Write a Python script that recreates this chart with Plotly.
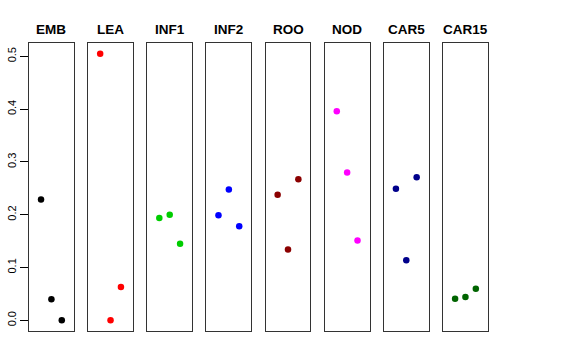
import plotly.graph_objects as go

W, H = 576, 360

categories = ["EMB", "LEA", "INF1", "INF2", "ROO", "NOD", "CAR5", "CAR15"]
colors = ["#000000", "#FF0000", "#00CD00", "#0000FF", "#8B0000", "#FF00FF", "#00008B", "#006400"]
x_positions = [1, 2, 3]
emb = [0.229, 0.040, 0.0]
lea = [0.505, 0.0, 0.063]
inf1 = [0.194, 0.200, 0.145]
inf2 = [0.199, 0.248, 0.178]
roo = [0.238, 0.134, 0.267]
nod = [0.396, 0.280, 0.151]
car5 = [0.249, 0.114, 0.271]
car15 = [0.041, 0.044, 0.060]
series = [emb, lea, inf1, inf2, roo, nod, car5, car15]
y_ticks = [0.0, 0.1, 0.2, 0.3, 0.4, 0.5]
y_tick_text = ["0.0", "0.1", "0.2", "0.3", "0.4", "0.5"]

# y range: R-style 4% expansion of data range
all_vals = [v for s in series for v in s]
ymin, ymax = min(all_vals), max(all_vals)
pad = 0.04 * (ymax - ymin)
y_range = [ymin - pad, ymax + pad]
x_range = [-0.16, 4.16]

fig = go.Figure()

left0, step, width = 29.0, 59.15, 44.8
top_px, bottom_px = 43.0, 331.0
ydom = [1 - bottom_px / H, 1 - top_px / H]

layout = dict(
    width=W, height=H,
    margin=dict(l=0, r=0, t=0, b=0, autoexpand=False),
    paper_bgcolor="white", plot_bgcolor="white",
    showlegend=False,
    font=dict(family="Liberation Sans, Arial, sans-serif", color="black"),
)

annotations = []
for i, (cat, col, vals) in enumerate(zip(categories, colors, series)):
    n = "" if i == 0 else str(i + 1)
    l = left0 + step * i
    xd = [l / W, (l + width) / W]
    fig.add_trace(go.Scatter(
        x=x_positions, y=vals, mode="markers",
        marker=dict(color=col, size=6.5, line=dict(width=0)),
        xaxis="x" + n, yaxis="y" + n, hoverinfo="skip",
    ))
    layout["xaxis" + n] = dict(
        domain=xd, range=x_range, anchor="y" + n, automargin=False,
        showgrid=False, zeroline=False, showticklabels=False, ticks="",
        showline=True, mirror=True, linecolor="#333333", linewidth=1,
    )
    ydef = dict(
        domain=ydom, range=y_range, anchor="x" + n, automargin=False,
        showgrid=False, zeroline=False,
        showline=True, mirror=True, linecolor="#333333", linewidth=1,
    )
    if i == 0:
        ydef.update(
            tickmode="array", tickvals=y_ticks, ticktext=y_tick_text,
            ticks="outside", ticklen=8, tickwidth=1, tickcolor="black",
            tickangle=-90, tickfont=dict(size=11, color="black"),
            showticklabels=True,
        )
    else:
        ydef.update(showticklabels=False, ticks="")
    layout["yaxis" + n] = ydef
    annotations.append(dict(
        text="<b>" + cat + "</b>", x=(l + width / 2) / W, y=1 - 29.7 / H,
        xref="paper", yref="paper", xanchor="center", yanchor="middle",
        showarrow=False, font=dict(size=13.5, color="black"),
    ))

layout["annotations"] = annotations
fig.update_layout(**layout)
fig.write_html("out.html", config={"displayModeBar": False, "staticPlot": True},
               post_script="document.body.style.margin='0';")
